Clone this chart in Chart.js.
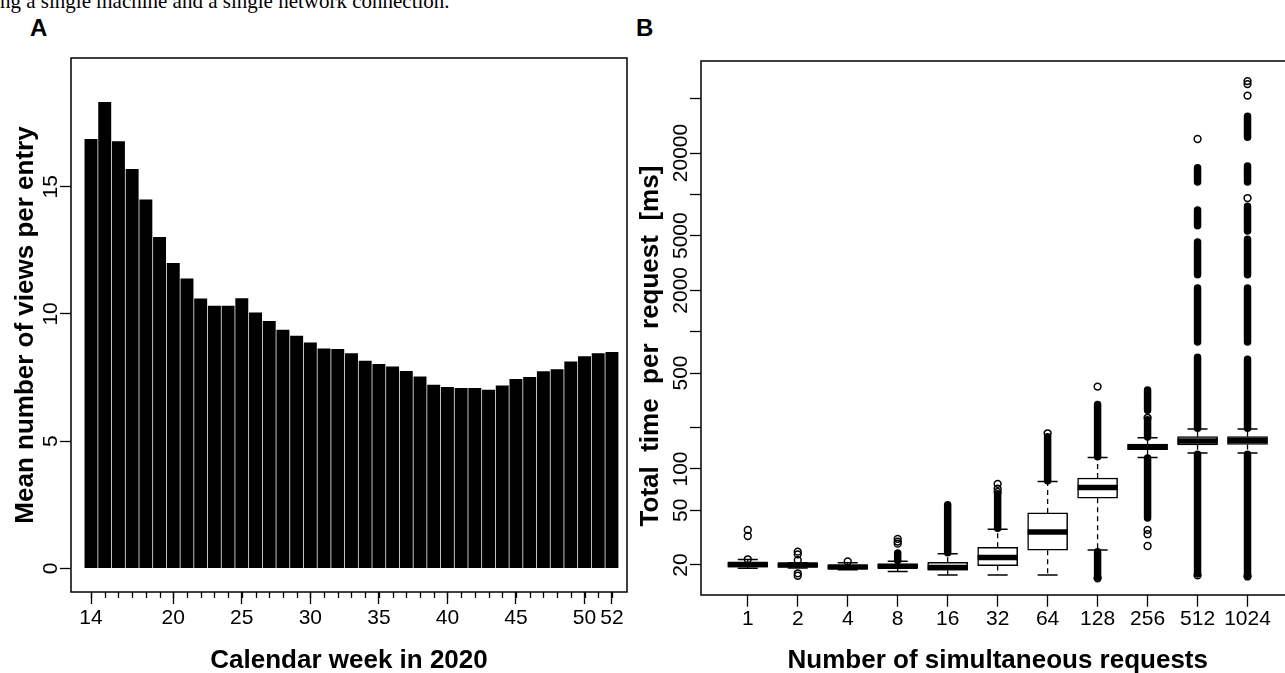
<!DOCTYPE html>
<html>
<head>
<meta charset="utf-8">
<script src="https://cdn.jsdelivr.net/npm/chart.js@4.4.1/dist/chart.umd.min.js"></script>
<style>
  html, body { margin: 0; padding: 0; background: #fff; overflow: hidden; }
  #page { position: relative; width: 1285px; height: 673px; overflow: hidden; }
  .caption { position: absolute; left: 0; top: -9px; font-family: "Liberation Serif", "Times New Roman", serif; font-size: 21px; line-height: 21px; white-space: nowrap; color: #000; }
  .panel { position: absolute; top: 16px; font-family: "Liberation Sans Narrow", "Liberation Sans", Arial, sans-serif; font-weight: bold; font-size: 24px; line-height: 24px; color: #000; }
  #wrapA { position: absolute; left: 0; top: 0; width: 640px; height: 673px; }
  #wrapB { position: absolute; left: 630px; top: 0; width: 690px; height: 673px; }
</style>
</head>
<body>
<div id="page">
  <div class="caption">ng a single machine and a single network connection.</div>
  <div class="panel" style="left:30px">A</div>
  <div class="panel" style="left:636px">B</div>
  <div id="wrapA"><canvas id="chartA"></canvas></div>
  <div id="wrapB"><canvas id="chartB"></canvas></div>
</div>
<script>
// panel A: mean views per entry by calendar week
const weeks = [14, 15, 16, 17, 18, 19, 20, 21, 22, 23, 24, 25, 26, 27, 28, 29, 30, 31, 32, 33,
  34, 35, 36, 37, 38, 39, 40, 41, 42, 43, 44, 45, 46, 47, 48, 49, 50, 51, 52]
const meanViews = [16.86, 18.32, 16.77, 15.68, 14.48, 13.01, 11.99, 11.38, 10.59, 10.31,
  10.31, 10.60, 10.04, 9.71, 9.36, 9.13, 8.86, 8.63, 8.61, 8.44,
  8.15, 8.02, 7.92, 7.74, 7.53, 7.20, 7.11, 7.07, 7.07, 7.01,
  7.17, 7.43, 7.51, 7.73, 7.81, 8.12, 8.32, 8.44, 8.49]
const weekLabels = [14, 20, 25, 30, 35, 40, 45, 50, 52]
const viewTicks = [0, 5, 10, 15]

// panel B: request time boxplots (ms)
const groups = ['1', '2', '4', '8', '16', '32', '64', '128', '256', '512', '1024']
const whiskerLow = [18.9, 19.0, 18.5, 17.9, 16.9, 16.9, 16.9, 25.7, 121.5, 130.8, 131]
const q1 = [19.3, 19.3, 18.8, 19.0, 18.3, 19.8, 25.6, 61.2, 138, 150, 151]
const median = [20.2, 20.0, 19.3, 19.6, 19.2, 22.7, 34.7, 73.3, 144, 160, 161]
const q3 = [20.8, 20.5, 19.9, 20.3, 20.9, 26.9, 47.9, 86, 152, 172, 172]
const whiskerHigh = [21.9, 20.8, 20.8, 21.3, 24.1, 36.4, 81.2, 121.5, 168.6, 195.5, 195.5]
// outliers so dense they merge into solid runs: [low, high]
const outlierRuns = [
  [],
  [],
  [],
  [[21.6, 24.5]],
  [[24.6, 55]],
  [[37, 66]],
  [[82, 172]],
  [[123, 295], [16.3, 25]],
  [[171, 228], [268, 376], [44, 120]],
  [[17.2, 128], [198, 650], [840, 2080], [2600, 4500], [5900, 7700], [12300, 15600]],
  [[16.8, 128], [198, 630], [840, 2080], [2600, 4700], [5400, 8200], [12300, 16100], [26000, 37000]]
]
const outlierPoints = [
  [22.0, 32.5, 36],
  [25.0, 23.9, 21.7, 17.4, 16.7],
  [21.2],
  [28.6, 29.6, 31.0],
  [],
  [68, 72, 78],
  [182],
  [398, 16.0],
  [236, 36, 33.5, 27.5],
  [25300, 16.8],
  [66800, 63500, 52400, 9400, 16.5]
]
const timeTicks = [20, 50, 100, 200, 500, 1000, 2000, 5000, 10000, 20000, 50000]
const timeLabels = [20, 50, 100, 500, 2000, 5000, 20000]

Chart.defaults.font.family = '"Liberation Sans", Arial, sans-serif'
Chart.defaults.color = '#000'

// box round the plot region
const frame = {
  id: 'frame',
  afterDraw(chart) {
    const {ctx, chartArea: a} = chart
    ctx.save()
    ctx.strokeStyle = '#000'
    ctx.lineWidth = 1.5
    ctx.strokeRect(a.left, a.top, a.right - a.left, a.bottom - a.top)
    ctx.restore()
  }
}

// R style y tick labels, turned to read upwards
var sideLabels = (values, gap) => ({
  id: 'sideLabels',
  afterDraw(chart) {
    const s = chart.scales.y
    const ctx = chart.ctx
    ctx.save()
    ctx.font = '21px "Liberation Sans", Arial, sans-serif'
    ctx.fillStyle = '#000'
    ctx.textAlign = 'center'
    ctx.textBaseline = 'alphabetic'
    for (let v of values) {
      ctx.save()
      ctx.translate(s.right - gap, s.getPixelForValue(v))
      ctx.rotate(-Math.PI / 2)
      ctx.fillText(String(v), 0, 0)
      ctx.restore()
    }
    ctx.restore()
  }
})

// short ticks under every week
const minorTicks = {
  id: 'minorTicks',
  afterDraw(chart) {
    const s = chart.scales.x
    const ctx = chart.ctx
    const b = chart.chartArea.bottom
    ctx.save()
    ctx.strokeStyle = '#000'
    ctx.lineWidth = 1.3
    for (let w of weeks) {
      const x = Math.round(s.getPixelForValue(w)) + 0.5
      ctx.beginPath()
      ctx.moveTo(x, b)
      ctx.lineTo(x, b + 6)
      ctx.stroke()
    }
    ctx.restore()
  }
}

const titleFont = { size: 26, weight: 'bold', lineHeight: 0.92 }

new Chart(document.getElementById('chartA'), {
  type: 'bar',
  data: {
    datasets: [{
      data: weeks.map((w, i) => ({ x: w, y: meanViews[i] })),
      backgroundColor: '#000',
      borderWidth: 0,
      barThickness: 12.3
    }]
  },
  options: {
    responsive: true,
    maintainAspectRatio: false,
    animation: false,
    events: [],
    layout: { padding: { left: 0, right: 13, top: 58, bottom: 0 } },
    plugins: { legend: { display: false }, tooltip: { enabled: false } },
    scales: {
      x: {
        type: 'linear',
        offset: false,
        min: 12.54,
        max: 53.1,
        afterBuildTicks: s => { s.ticks = weekLabels.map(v => ({ value: v })) },
        afterFit: s => { s.height = 81 },
        grid: { offset: false, drawOnChartArea: false, tickLength: 12, tickColor: '#000', tickWidth: 1.3 },
        border: { display: false },
        ticks: { font: { size: 21 }, padding: 2, maxRotation: 0, autoSkip: false, callback: v => String(v) },
        title: { display: true, text: 'Calendar week in 2020', font: titleFont, padding: 0 }
      },
      y: {
        min: -0.932,
        max: 20.06,
        afterBuildTicks: s => { s.ticks = viewTicks.map(v => ({ value: v })) },
        afterFit: s => { s.width = 71 },
        grid: { drawOnChartArea: false, tickLength: 11, tickColor: '#000', tickWidth: 1.3 },
        border: { display: false },
        ticks: { display: false },
        title: { display: true, text: 'Mean number of views per entry', font: titleFont, padding: { top: 14, bottom: 0 } }
      }
    }
  },
  plugins: [frame, sideLabels(viewTicks, 14), minorTicks]
})

const boxData = groups.map((g, i) => ({ x: i + 1, y: [q1[i], q3[i]] }))
const medianData = groups.map((g, i) => ({ x: i + 1, y: median[i] }))
const capData = groups.flatMap((g, i) => [{ x: i + 1, y: whiskerLow[i] }, { x: i + 1, y: whiskerHigh[i] }])
const whiskerData = groups.flatMap((g, i) => [
  { x: i + 1, y: q3[i] }, { x: i + 1, y: whiskerHigh[i] }, { x: i + 1, y: null },
  { x: i + 1, y: q1[i] }, { x: i + 1, y: whiskerLow[i] }, { x: i + 1, y: null }
])
const runData = outlierRuns.flatMap((runs, i) => runs.flatMap(r => [
  { x: i + 1, y: r[0] }, { x: i + 1, y: r[1] }, { x: i + 1, y: null }
]))
const pointData = outlierPoints.flatMap((pts, i) => pts.map(v => ({ x: i + 1, y: v })))

new Chart(document.getElementById('chartB'), {
  type: 'bar',
  data: {
    datasets: [
      {
        type: 'line', order: 0, data: pointData, showLine: false,
        pointStyle: 'circle', pointRadius: 3.4, borderColor: '#000', borderWidth: 1.5,
        pointBackgroundColor: 'rgba(0,0,0,0)'
      },
      {
        type: 'line', order: 1, data: runData, pointRadius: 0,
        borderColor: '#000', borderWidth: 7.5, borderCapStyle: 'round', spanGaps: false
      },
      {
        type: 'line', order: 2, data: medianData, showLine: false,
        pointStyle: 'line', pointRadius: 20, borderColor: '#000', borderWidth: 5.5
      },
      {
        type: 'line', order: 3, data: capData, showLine: false,
        pointStyle: 'line', pointRadius: 10, borderColor: '#000', borderWidth: 1.5
      },
      {
        type: 'bar', order: 4, data: boxData, grouped: false, barThickness: 40,
        backgroundColor: '#fff', borderColor: '#000', borderWidth: 1.5, borderSkipped: false
      },
      {
        type: 'line', order: 5, data: whiskerData, pointRadius: 0,
        borderColor: '#000', borderWidth: 1.3, borderDash: [5, 4], spanGaps: false
      }
    ]
  },
  options: {
    responsive: true,
    maintainAspectRatio: false,
    animation: false,
    events: [],
    layout: { padding: { left: 0, right: 23, top: 61, bottom: 0 } },
    plugins: { legend: { display: false }, tooltip: { enabled: false } },
    scales: {
      x: {
        type: 'linear',
        offset: false,
        min: 0.064,
        max: 11.94,
        afterBuildTicks: s => { s.ticks = groups.map((g, i) => ({ value: i + 1 })) },
        afterFit: s => { s.height = 78 },
        grid: { offset: false, drawOnChartArea: false, tickLength: 11.7, tickColor: '#000', tickWidth: 1.3 },
        border: { display: false },
        ticks: { font: { size: 21 }, padding: 0, maxRotation: 0, autoSkip: false, callback: v => groups[Math.round(v) - 1] },
        title: { display: true, text: 'Number of simultaneous requests', font: titleFont, padding: 0 }
      },
      y: {
        type: 'logarithmic',
        min: 12.09,
        max: 93540,
        afterBuildTicks: s => { s.ticks = timeTicks.map(v => ({ value: v })) },
        afterFit: s => { s.width = 71 },
        grid: { drawOnChartArea: false, tickLength: 11, tickColor: '#000', tickWidth: 1.3 },
        border: { display: false },
        ticks: { display: false },
        // trailing spaces push the centred title down, as in the original
        title: { display: true, text: 'Total  time  per  request  [ms]     ', font: titleFont, padding: { top: 9, bottom: 0 } }
      }
    }
  },
  plugins: [frame, sideLabels(timeLabels, 14)]
})
</script>
</body>
</html>
